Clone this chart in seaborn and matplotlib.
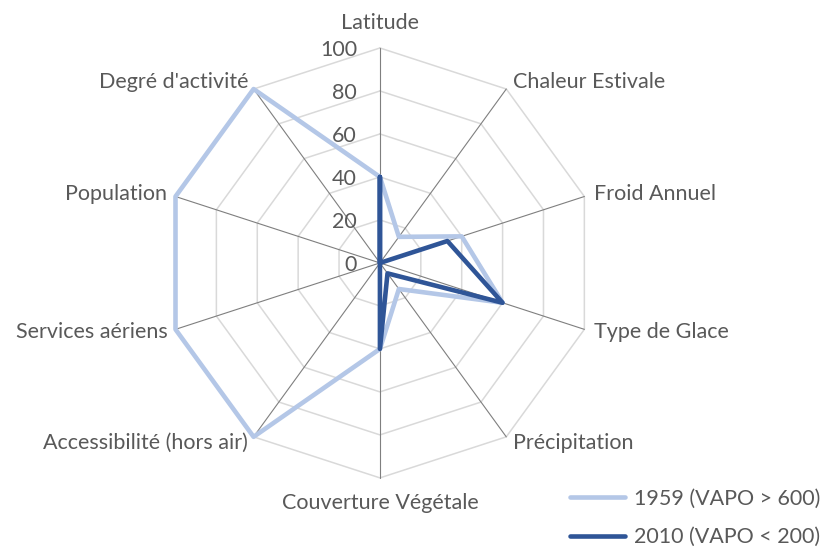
import numpy as np
import pandas as pd
import matplotlib
matplotlib.use("Agg")
import matplotlib.pyplot as plt
import seaborn as sns
from matplotlib.lines import Line2D

categories = ["Latitude", "Chaleur Estivale", "Froid Annuel", "Type de Glace",
              "Précipitation", "Couverture Végétale", "Accessibilité (hors air)",
              "Services aériens", "Population", "Degré d'activité"]
series_names = ["1959 (VAPO > 600)", "2010 (VAPO < 200)"]
values_1959 = [40, 15, 40, 60, 15, 40, 100, 100, 100, 100]
values_2010 = [40, 0, 33, 60, 6, 40, 0, 0, 0, 0]
ticks = [0, 20, 40, 60, 80, 100]

colors = {"1959 (VAPO > 600)": "#b4c7e7", "2010 (VAPO < 200)": "#2f5597"}
text_color = "#595959"
fs = 15.5

sns.set_theme(style="white")
plt.rcParams["font.family"] = ["Lato", "DejaVu Sans"]

n = len(categories)
thetas = np.arange(n) * 2 * np.pi / n
closed_t = np.append(thetas, 2 * np.pi)

rows = []
for name, vals in zip(series_names, [values_1959, values_2010]):
    vv = list(vals) + [vals[0]]
    for k, (t, v) in enumerate(zip(closed_t, vv)):
        rows.append({"series": name, "theta": t, "value": v, "order": k})
df = pd.DataFrame(rows)

fig = plt.figure(figsize=(8.22, 5.48), dpi=100)
ax = fig.add_axes([0.2007, 0.1277, 0.523, 0.785], projection="polar")
ax.set_theta_zero_location("N")
ax.set_theta_direction(-1)
ax.set_ylim(0, 100)
ax.set_xticks([])
ax.set_yticks([])
ax.grid(False)
ax.spines["polar"].set_visible(False)
ax.patch.set_alpha(0)

# polygon rings
for r in ticks[1:]:
    ax.plot(closed_t, [r] * (n + 1), color="#d9d9d9", lw=1.1, zorder=1, clip_on=False)
# spokes
for t in thetas:
    ax.plot([t, t], [0, 100], color="#7f7f7f", lw=0.8, zorder=2, clip_on=False)

sns.lineplot(data=df, x="theta", y="value", hue="series", palette=colors,
             sort=False, estimator=None, units="series", ax=ax, linewidth=3.3,
             legend=False, zorder=3)
for ln in ax.lines:
    ln.set_clip_on(False)
ax.set_xlabel("")
ax.set_ylabel("")
ax.set_ylim(0, 100)

# tick labels
for v in ticks:
    ax.annotate(str(v), xy=(0, v), xytext=(-23, -2), textcoords="offset pixels",
                ha="right", va="center", fontsize=fs, color=text_color)

# category labels
offsets = [(0, 25, "center"), (7, 7, "left"), (10, 3, "left"), (10, -3, "left"),
           (7, -6, "left"), (0, -25, "center"), (-6, -6, "right"),
           (-8, -3, "right"), (-8, 3, "right"), (-5, 7, "right")]
for cat, t, (dx, dy, ha) in zip(categories, thetas, offsets):
    ax.annotate(cat, xy=(t, 100), xytext=(dx, dy), textcoords="offset pixels",
                ha=ha, va="center", fontsize=fs, color=text_color,
                annotation_clip=False)

handles = [Line2D([0], [0], color=colors[s], lw=3.3) for s in series_names]
leg = fig.legend(handles, series_names, loc="center", bbox_to_anchor=(0.8455, 0.0547),
                 frameon=False, fontsize=fs, handlelength=2.56, handletextpad=0.42,
                 labelspacing=0.85, borderpad=0)
for txt in leg.get_texts():
    txt.set_color(text_color)

fig.savefig("out.png", dpi=100)
